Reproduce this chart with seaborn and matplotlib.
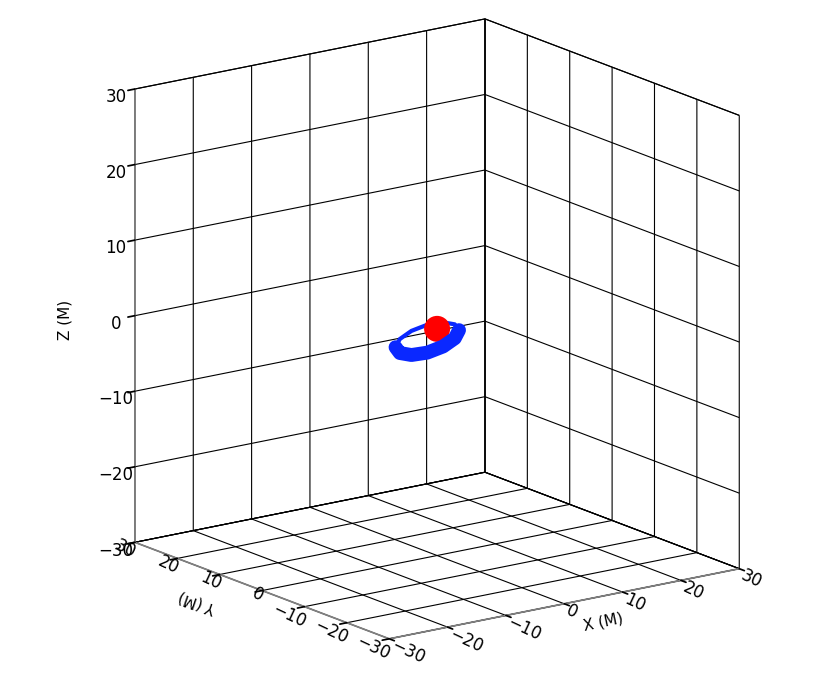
import matplotlib
matplotlib.use("Agg")
import matplotlib.pyplot as plt
import seaborn as sns

# axis ranges / ticks (M)
axis_lim = (-30, 30)
tick_vals = [-30, -20, -10, 0, 10, 20, 30]

# central body (red) and disk ring (blue), positions in M
body_x = [0.0]
body_y = [0.0]
body_z = [0.0]

ring_x = [2.46, 3.27, 2.92, 1.49, -0.64, -2.89, -4.66, -5.47, -5.12, -3.69, -1.56, 0.69, 2.46]
ring_y = [-1.79, 0.34, 2.59, 4.36, 5.17, 4.82, 3.39, 1.26, -0.99, -2.76, -3.57, -3.22, -1.79]
ring_z = [-0.17, 0.02, -0.14, -0.61, -1.27, -1.93, -2.43, -2.62, -2.46, -1.99, -1.33, -0.67, -0.17]

sns.set_theme(style="white")
plt.rcParams.update({
    "font.family": ["DejaVu Sans"],
    "text.color": "black",
    "grid.color": "black",
    "grid.linewidth": 0.8,
    "axes.edgecolor": "gray",
})

fig = plt.figure(figsize=(8.3, 6.83), dpi=100)
ax = fig.add_axes([0.018, 0.005, 0.995, 1.0], projection="3d", proj_type="ortho",
                  computed_zorder=False)
ax.view_init(elev=16, azim=-126)
ax.set_box_aspect((1, 1, 1.09), zoom=1.098)

ax.set_xlim(*axis_lim)
ax.set_ylim(*axis_lim)
ax.set_zlim(*axis_lim)
ax.set_xticks(tick_vals)
ax.set_yticks(tick_vals)
ax.set_zticks(tick_vals)

for axis in (ax.xaxis, ax.yaxis, ax.zaxis):
    axis.set_pane_color((1, 1, 1, 1))
    axis.pane.set_edgecolor("black")
    axis.pane.set_linewidth(0.8)
    axis.line.set_color("gray")
    axis._axinfo["grid"].update(color="black", linewidth=0.8)
    axis._axinfo["tick"]["inward_factor"] = 0.25
    axis._axinfo["tick"]["outward_factor"] = 0.0
    axis._axinfo["tick"]["color"] = "gray"

ax.tick_params(axis="both", labelsize=12, colors="black")
ax.tick_params(axis="x", labelrotation=-25, pad=-9)
ax.tick_params(axis="y", labelrotation=-25, pad=-11)
ax.tick_params(axis="z", pad=0)
plt.setp(ax.get_xticklabels(), ha="left")
plt.setp(ax.get_yticklabels(), ha="right")
ax.grid(True)

blue = "#0a28ff"
red = "#ff0000"
# back half of ring, then body, then front half
ax.plot(ring_x[:7], ring_y[:7], ring_z[:7], color=blue, lw=3, zorder=2)
ax.scatter(body_x, body_y, body_z, s=350, color=red, depthshade=False,
           edgecolors="none", zorder=3)
ax.plot(ring_x[6:], ring_y[6:], ring_z[6:], color=blue, lw=10,
        solid_capstyle="round", zorder=4)

fig.text(65 / 830, 1 - 320 / 683, "Z (M)", rotation=90, fontsize=11,
         ha="center", va="center")
fig.text(197 / 830, 1 - 602 / 683, "Y (M)", rotation=161, fontsize=11,
         ha="center", va="center")
fig.text(603 / 830, 1 - 622 / 683, "X (M)", rotation=12, fontsize=11,
         ha="center", va="center")

fig.savefig("out.png", dpi=100)
